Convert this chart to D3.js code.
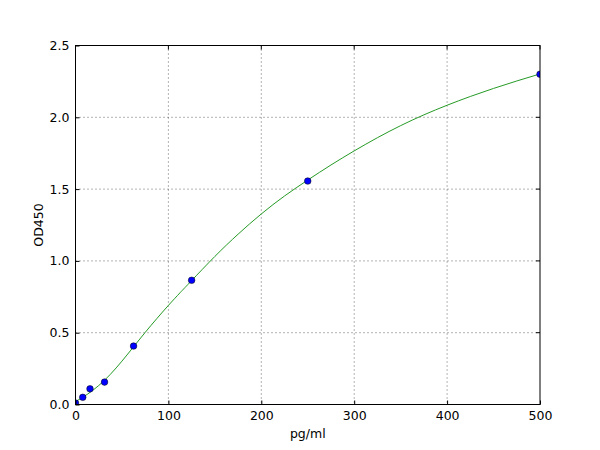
<!DOCTYPE html>
<html>
<head>
<meta charset="utf-8">
<script src="https://cdn.jsdelivr.net/npm/d3@7"></script>
<style>
  body { margin: 0; background: #fff; }
  text { font-family: "DejaVu Sans", sans-serif; }
</style>
</head>
<body>
<div id="chart"></div>
<script>
// standards measured on the plate
var stdConc = [0, 7.8, 15.6, 31.25, 62.5, 125, 250, 500],
    stdOD   = [0.01, 0.05, 0.109, 0.156, 0.407, 0.865, 1.556, 2.30];

// fitted curve
var fitConc = [0, 12.5, 25, 37.5, 50, 62.5, 75, 87.5, 100, 112.5, 125, 150, 175, 200, 225, 250,
               275, 300, 325, 350, 375, 400, 425, 450, 475, 500],
    fitOD   = [0.02, 0.07, 0.132, 0.21, 0.302, 0.402, 0.502, 0.598, 0.69, 0.778, 0.863, 1.031, 1.186, 1.327, 1.452, 1.563,
               1.668, 1.766, 1.858, 1.942, 2.017, 2.084, 2.145, 2.201, 2.253, 2.302];

var xTicks = [0, 100, 200, 300, 400, 500],
    yTicks = [0, 0.5, 1.0, 1.5, 2.0, 2.5];

var width = 600, height = 450,
    mLeft = 75.5, mRight = 540, mTop = 45.5, mBottom = 404.5;

var svg = d3.select("#chart").append("svg")
  .attr("width", width)
  .attr("height", height);

var x = d3.scaleLinear().domain([0, 500]).range([mLeft, mRight]),
    y = d3.scaleLinear().domain([0, 2.5]).range([mBottom, mTop]);

svg.append("defs").append("clipPath").attr("id", "clip")
  .append("rect")
  .attr("x", mLeft).attr("y", mTop)
  .attr("width", mRight - mLeft).attr("height", mBottom - mTop);

// grid
var grid = svg.append("g")
  .attr("stroke", "#000")
  .attr("stroke-width", 0.6)
  .attr("stroke-dasharray", "1,3");

grid.selectAll("line.vx")
  .data(xTicks.slice(1, -1))
  .enter().append("line")
  .attr("x1", function(d) { return x(d); })
  .attr("x2", function(d) { return x(d); })
  .attr("y1", mTop).attr("y2", mBottom);

grid.selectAll("line.hy")
  .data(yTicks.slice(1, -1))
  .enter().append("line")
  .attr("y1", function(d) { return y(d); })
  .attr("y2", function(d) { return y(d); })
  .attr("x1", mLeft).attr("x2", mRight);

// curve and points
var plot = svg.append("g").attr("clip-path", "url(#clip)");

var line = d3.line()
  .x(function(d) { return x(d[0]); })
  .y(function(d) { return y(d[1]); })
  .curve(d3.curveNatural);

plot.append("path")
  .datum(d3.zip(fitConc, fitOD))
  .attr("d", line)
  .attr("fill", "none")
  .attr("stroke", "#259a25")
  .attr("stroke-width", 1);

plot.selectAll("circle")
  .data(d3.zip(stdConc, stdOD))
  .enter().append("circle")
  .attr("cx", function(d) { return x(d[0]); })
  .attr("cy", function(d) { return y(d[1]); })
  .attr("r", 3.3)
  .attr("fill", "#0000ff")
  .attr("stroke", "#000")
  .attr("stroke-width", 0.5);

// axes, ticks inward like the classic style
var xAxis = d3.axisBottom(x).tickValues(xTicks).tickSizeInner(-4).tickSizeOuter(0)
  .tickFormat(d3.format("d"));
var yAxis = d3.axisLeft(y).tickValues(yTicks).tickSizeInner(-4).tickSizeOuter(0)
  .tickFormat(d3.format(".1f"));

var gx = svg.append("g").attr("transform", "translate(0," + mBottom + ")").call(xAxis);
var gy = svg.append("g").attr("transform", "translate(" + mLeft + ",0)").call(yAxis);

[gx, gy].forEach(function(g) {
  g.select(".domain").remove();
  g.selectAll("text")
    .attr("font-family", "DejaVu Sans, sans-serif")
    .attr("font-size", "12.5px")
    .attr("fill", "#000");
});
gx.selectAll("text").attr("y", 7);
gy.selectAll("text").attr("x", -6);

// mirrored ticks on top and right
svg.append("g").selectAll("line")
  .data(xTicks).enter().append("line")
  .attr("x1", function(d) { return x(d); })
  .attr("x2", function(d) { return x(d); })
  .attr("y1", mTop).attr("y2", mTop + 4)
  .attr("stroke", "#000");
svg.append("g").selectAll("line")
  .data(yTicks).enter().append("line")
  .attr("y1", function(d) { return y(d); })
  .attr("y2", function(d) { return y(d); })
  .attr("x1", mRight).attr("x2", mRight - 4)
  .attr("stroke", "#000");

svg.append("rect")
  .attr("x", mLeft).attr("y", mTop)
  .attr("width", mRight - mLeft).attr("height", mBottom - mTop)
  .attr("fill", "none")
  .attr("stroke", "#000")
  .attr("stroke-width", 1);

svg.append("text")
  .attr("x", (mLeft + mRight) / 2)
  .attr("y", 438)
  .attr("text-anchor", "middle")
  .attr("font-size", "12.5px")
  .text("pg/ml");

svg.append("text")
  .attr("transform", "translate(43," + ((mTop + mBottom) / 2) + ") rotate(-90)")
  .attr("text-anchor", "middle")
  .attr("font-size", "12.5px")
  .text("OD450");
</script>
</body>
</html>
